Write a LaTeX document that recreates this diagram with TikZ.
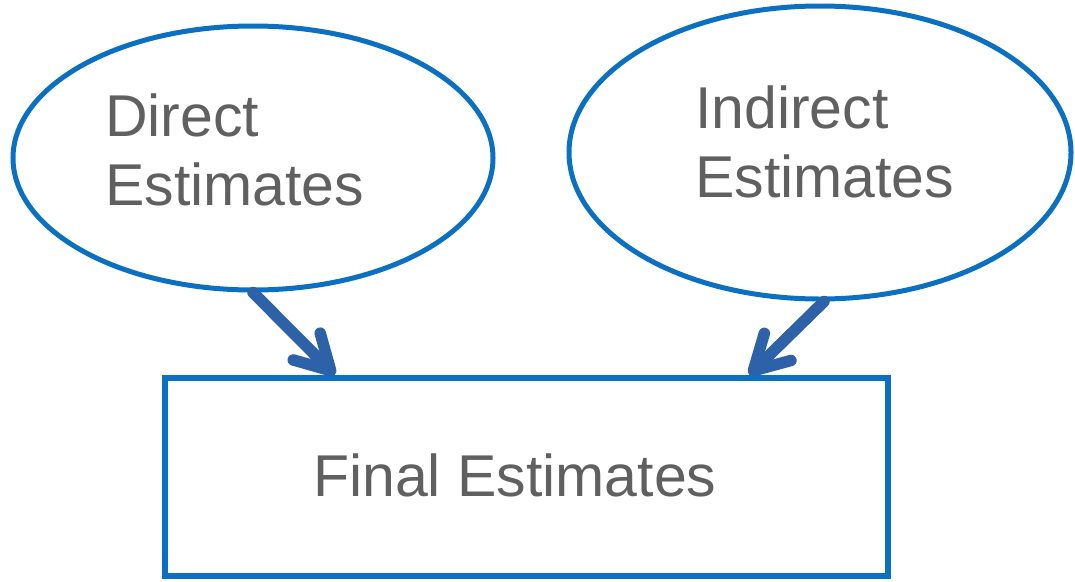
\documentclass[tikz,border=0pt]{standalone}
\usepackage{fontspec}
\setmainfont{Liberation Sans}
\usetikzlibrary{shapes.geometric,arrows.meta,calc}
\definecolor{shapeblue}{RGB}{11,112,193}
\definecolor{arrowblue}{RGB}{46,98,168}
\definecolor{textgray}{RGB}{96,96,96}
\tikzset{
  bubble/.style={ellipse, draw=shapeblue, line width=5pt, inner sep=0pt},
  finalbox/.style={rectangle, draw=shapeblue, line width=6.5pt, inner sep=0pt},
  caption/.style={inner sep=0pt, anchor=base west, align=left, text=textgray,
    font=\fontsize{59}{69}\selectfont},
  flow/.style={draw=arrowblue, line width=11.5pt, line cap=round,
    -{Straight Barb[length=34pt, width=38pt, line cap=round, round]}}
}
\begin{document}
\begin{tikzpicture}[x=1pt, y=-1pt]
  \useasboundingbox (0,0) rectangle (1075,581);
  % source estimates
  \node[bubble, minimum width=480pt, minimum height=264pt] (direct) at (253,158) {};
  \node[bubble, minimum width=502pt, minimum height=293pt] (indirect) at (820,152.5) {};
  % combined result
  \node[finalbox, minimum width=723pt, minimum height=198pt] (final) at (526.5,477) {};
  % labels (anchored at the baseline of the last line)
  \node[caption] (dlabel) at (105,205) {Direct\\Estimates};
  \node[caption] (ilabel) at (695,197) {Indirect\\Estimates};
  \node[caption] (flabel) at (313,496) {Final Estimates};
  % flows into the final estimates
  \draw[flow] (direct.south) -- ([xshift=173pt]final.north west);
  \draw[flow] ([xshift=4pt]indirect.south) -- ([xshift=-142pt]final.north east);
\end{tikzpicture}
\end{document}
